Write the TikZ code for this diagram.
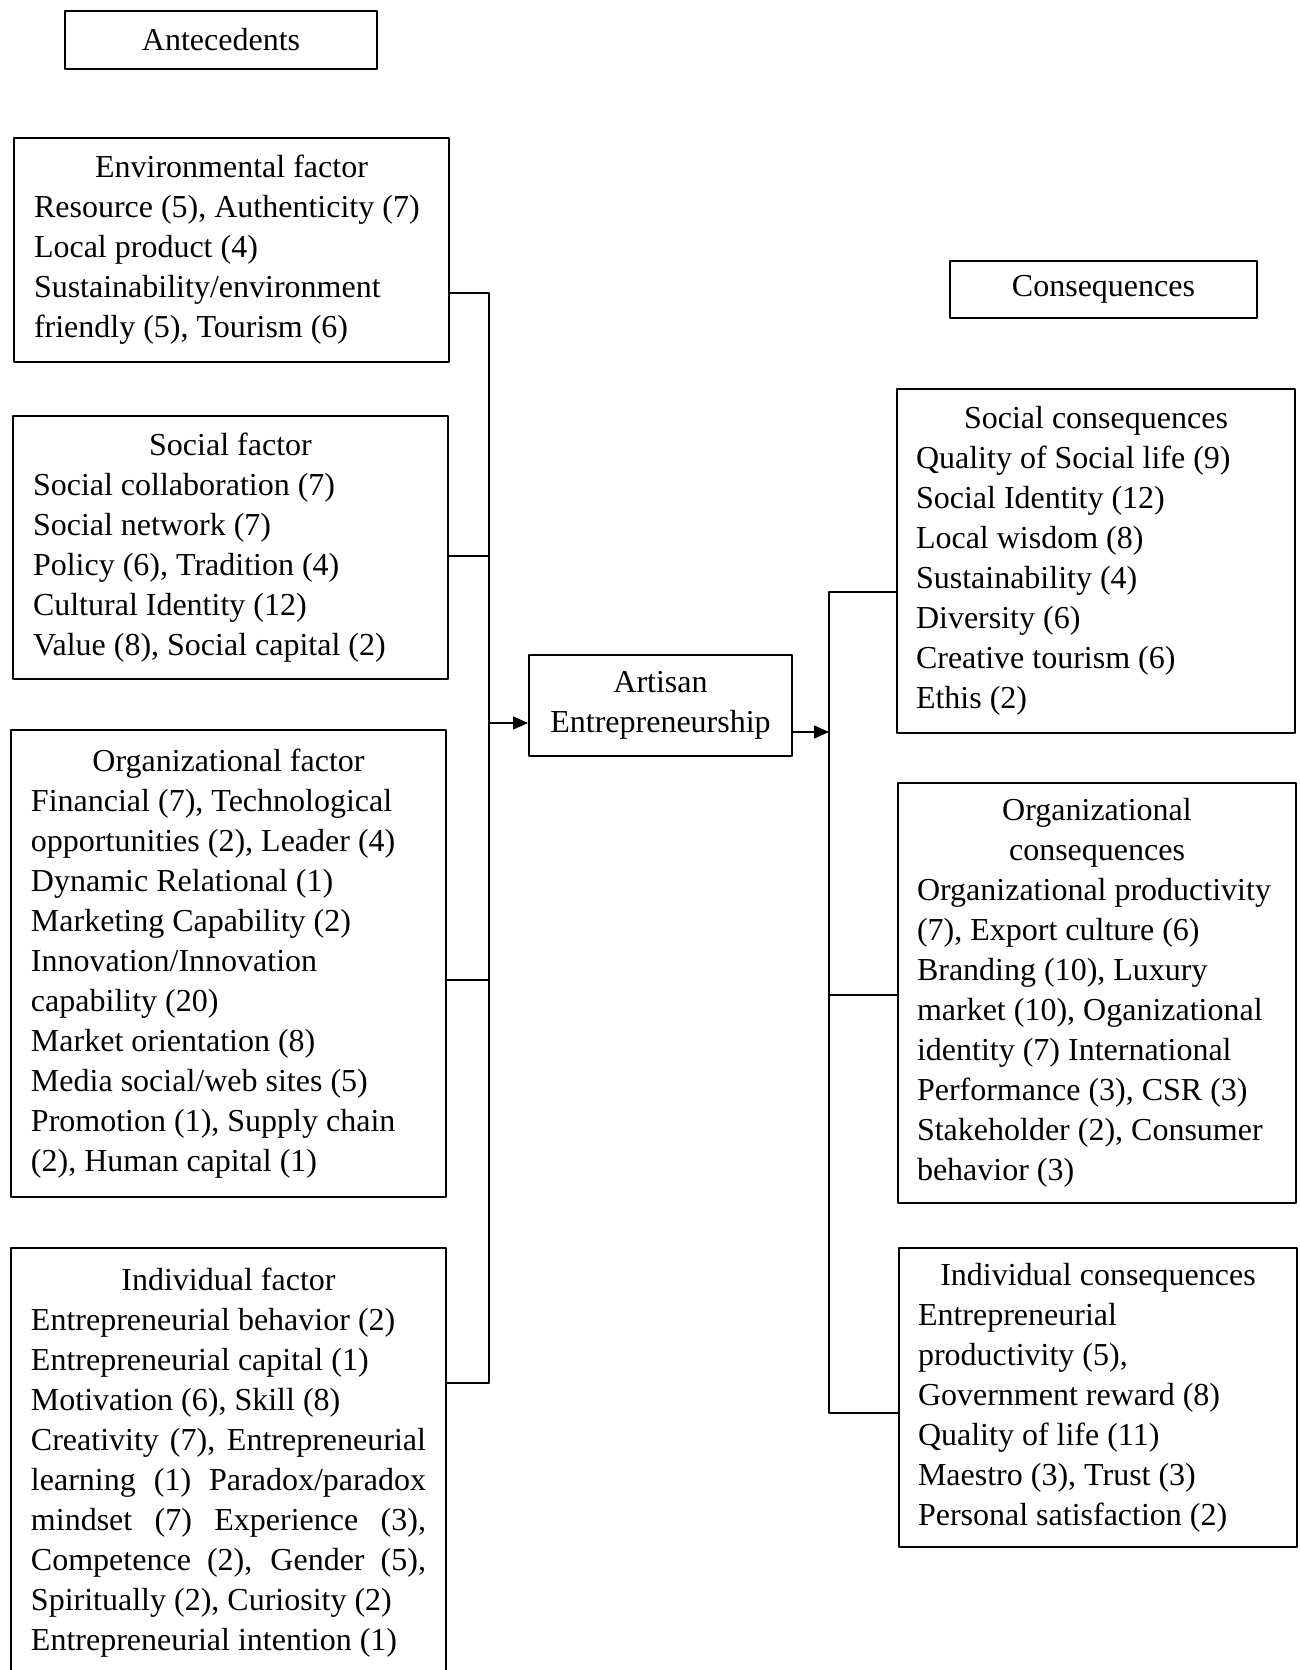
\documentclass[tikz,border=0pt]{standalone}
\usepackage{fontspec}
\setmainfont{Liberation Serif}
\usepackage{tikz}
\usetikzlibrary{arrows.meta,positioning}
\tikzset{
  every picture/.style={
    line join=round,
    >={Triangle[length=7.5pt,width=6.5pt]},   % filled tip everywhere
  },
  % boxes with a centred heading and left aligned items
  factorbox/.style={draw, line width=1pt, anchor=north west, align=flush left,
    font=\fontsize{16pt}{20pt}\selectfont, inner xsep=10pt, inner ysep=4pt,
    text width=197.5pt},
  consbox/.style={factorbox, inner xsep=9.5pt, text width=180pt},
  titlebox/.style={draw, line width=1pt, anchor=north west, align=flush center,
    font=\fontsize{16pt}{20pt}\selectfont, inner sep=2pt},
  link/.style={line width=0.7pt},
}
\newcommand{\boxhead}[1]{\makebox[\linewidth]{#1}}
\newcommand{\fullline}[1]{\makebox[\linewidth][s]{#1}}

\begin{document}
\begin{tikzpicture}[x=0.5pt, y=-0.5pt]
    \useasboundingbox (0,0) rectangle (1300,1670);
    \clip (0,0) rectangle (1300,1670);

    % Headings
    \node[titlebox, minimum width=156pt, minimum height=29pt] (antec) at (64,10) {Antecedents};
    \node[titlebox, minimum width=153.5pt, minimum height=28.5pt] (conseq) at (949,260) {Consequences};

    % Antecedents
    \node[factorbox, minimum height=112pt] (env) at (13,137) {\boxhead{Environmental factor}\\
      Resource (5), Authenticity (7)\\
      Local product (4)\\
      Sustainability/environment\\
      friendly (5), Tourism (6)};
    \node[factorbox, minimum height=131.5pt] (soc) at (12,415) {\boxhead{Social factor}\\
      Social collaboration (7)\\
      Social network (7)\\
      Policy (6), Tradition (4)\\
      Cultural Identity (12)\\
      Value (8), Social capital (2)};
    \node[factorbox, minimum height=233.5pt] (org) at (10,729) {\boxhead{Organizational factor}\\
      Financial (7), Technological\\
      opportunities (2), Leader (4)\\
      Dynamic Relational (1)\\
      Marketing Capability (2)\\
      Innovation/Innovation\\
      capability (20)\\
      Market orientation (8)\\
      Media social/web sites (5)\\
      Promotion (1), Supply chain\\
      (2), Human capital (1)};
    \node[factorbox, inner ysep=10pt] (ind) at (10,1247) {\boxhead{Individual factor}\\
      Entrepreneurial behavior (2)\\
      Entrepreneurial capital (1)\\
      Motivation (6), Skill (8)\\
      \fullline{Creativity (7), Entrepreneurial}\\
      \fullline{learning (1) Paradox/paradox}\\
      \fullline{mindset (7) Experience (3),}\\
      \fullline{Competence (2), Gender (5),}\\
      Spiritually (2), Curiosity (2)\\
      Entrepreneurial intention (1)};

    % Centre
    \node[titlebox, minimum width=131.5pt, minimum height=50.5pt] (artisan) at (528,654) {Artisan\\Entrepreneurship};

    % Consequences
    \node[consbox, minimum height=172pt] (scons) at (896,388) {\boxhead{Social consequences}\\
      Quality of Social life (9)\\
      Social Identity (12)\\
      Local wisdom (8)\\
      Sustainability (4)\\
      Diversity (6)\\
      Creative tourism (6)\\
      Ethis (2)};
    \node[consbox, minimum height=210pt] (ocons) at (897,782) {\boxhead{Organizational}\\
      \boxhead{consequences}\\
      Organizational productivity\\
      (7), Export culture (6)\\
      Branding (10), Luxury\\
      market (10), Oganizational\\
      identity (7) International\\
      Performance (3), CSR (3)\\
      Stakeholder (2), Consumer\\
      behavior (3)};
    \node[consbox, minimum height=149.5pt] (icons) at (898,1247) {\boxhead{Individual consequences}\\
      Entrepreneurial\\
      productivity (5),\\
      Government reward (8)\\
      Quality of life (11)\\
      Maestro (3), Trust (3)\\
      Personal satisfaction (2)};

    % Bus on the left
    \coordinate (jEnv) at (489,293);
    \coordinate (jSoc) at (489,556);
    \coordinate (jOrg) at (489,980);
    \coordinate (jInd) at (489,1383);
    \coordinate (jIn) at (489,723);
    \draw[link] (env.east |- jEnv) -- (jEnv) -- (jInd) -- (ind.east |- jInd);
    \draw[link] (soc.east |- jSoc) -- (jSoc);
    \draw[link] (org.east |- jOrg) -- (jOrg);
    \draw[link, ->] (jIn) -- (artisan.west |- jIn);

    % Bus on the right
    \coordinate (jOut) at (829,732);
    \coordinate (jSc) at (829,592);
    \coordinate (jOc) at (829,995);
    \coordinate (jIc) at (829,1413);
    \draw[link, ->] (artisan.east |- jOut) -- (jOut);
    \draw[link] (scons.west |- jSc) -- (jSc) -- (jIc) -- (icons.west |- jIc);
    \draw[link] (ocons.west |- jOc) -- (jOc);
\end{tikzpicture}
\end{document}
